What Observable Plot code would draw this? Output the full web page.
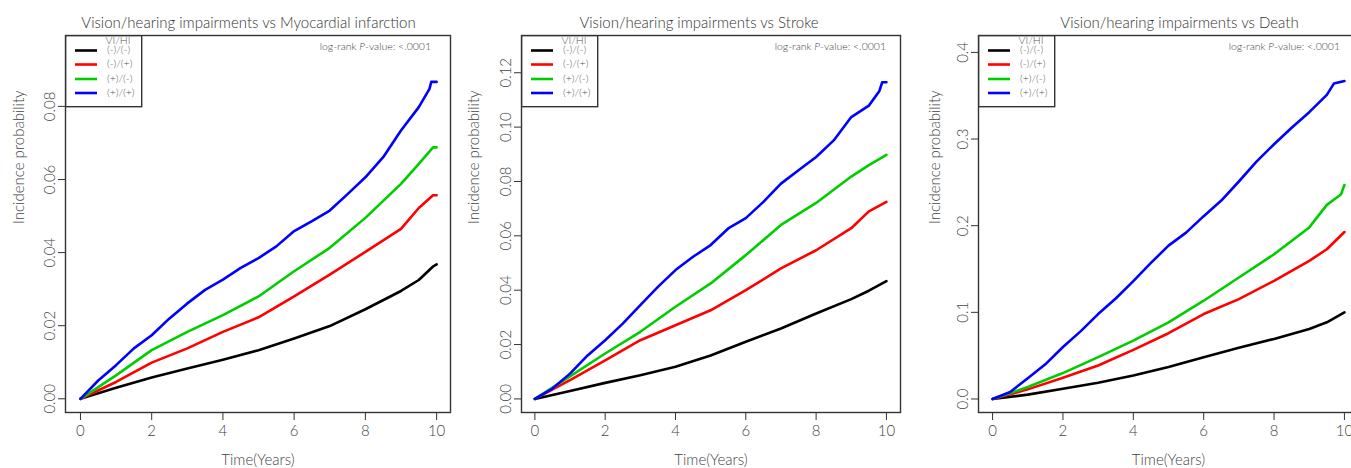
<!DOCTYPE html>
<html><head><meta charset="utf-8">
<script src="https://cdn.jsdelivr.net/npm/d3@7"></script>
<script src="https://cdn.jsdelivr.net/npm/@observablehq/plot@0.6"></script>
<style>
html,body{margin:0;padding:0;background:#fff;overflow:hidden}
#root{position:relative;width:1351px;height:468px;overflow:hidden;font-family:Lato,"Open Sans",sans-serif}
.panel{position:absolute;top:0}
.pval{position:absolute;font-size:10.5px;color:#444;white-space:nowrap;line-height:12px;font-weight:300}
svg.leg{position:absolute;top:35px;overflow:visible}
</style></head><body><div id="root"></div>
<script>
// ---------- data ----------
const groups = ["(-)/(-)", "(-)/(+)", "(+)/(-)", "(+)/(+)"];
const groupColors = ["#000000", "#FF0000", "#00CD00", "#0000FF"];
const legendTitle = "VI/HI";
const xTicks = [0, 2, 4, 6, 8, 10];

// Panel 1: Myocardial infarction
const miTitle = "Vision/hearing impairments vs Myocardial infarction";
const miTimes = [0, 1, 2, 3, 4, 5, 6, 7, 8, 9, 9.5, 9.9, 10];
const miNone = [0, 0.0030, 0.0058, 0.0083, 0.0107, 0.0133, 0.0165, 0.0199, 0.0245, 0.0295, 0.0325, 0.0362, 0.0368];
const miHearing = [0, 0.0046, 0.0099, 0.0138, 0.0183, 0.0223, 0.0280, 0.0340, 0.0402, 0.0465, 0.0522, 0.0557, 0.0557];
const miVision = [0, 0.0064, 0.0133, 0.0183, 0.0229, 0.0280, 0.0349, 0.0413, 0.0495, 0.0588, 0.0643, 0.0688, 0.0688];
const miBothTimes = [0, 0.5, 1, 1.5, 2, 2.5, 3, 3.5, 4, 4.5, 5, 5.5, 6, 6.5, 7, 7.5, 8, 8.5, 9, 9.5, 9.8, 9.85, 10];
const miBoth = [0, 0.0050, 0.0092, 0.0138, 0.0174, 0.0220, 0.0261, 0.0298, 0.0326, 0.0358, 0.0385, 0.0417, 0.0459, 0.0486, 0.0515, 0.0560, 0.0606, 0.0661, 0.0734, 0.0798, 0.0848, 0.0867, 0.0867];
const miYTicks = [0, 0.02, 0.04, 0.06, 0.08];

// Panel 2: Stroke
const stTitle = "Vision/hearing impairments vs Stroke";
const stTimes = [0, 1, 2, 3, 4, 5, 6, 7, 8, 9, 9.5, 10];
const stNone = [0, 0.0029, 0.0059, 0.0087, 0.0118, 0.0160, 0.0210, 0.0259, 0.0314, 0.0367, 0.0398, 0.0433];
const stHearing = [0, 0.0069, 0.0142, 0.0216, 0.0271, 0.0326, 0.0400, 0.0480, 0.0547, 0.0628, 0.0690, 0.0725];
const stVision = [0, 0.0083, 0.0167, 0.0247, 0.0339, 0.0425, 0.0529, 0.0640, 0.0721, 0.0818, 0.0860, 0.0898];
const stBothTimes = [0, 0.5, 1, 1.5, 2, 2.5, 3, 3.5, 4, 4.5, 5, 5.5, 6, 6.5, 7, 7.5, 8, 8.5, 9, 9.5, 9.8, 9.88, 10];
const stBoth = [0, 0.0038, 0.0093, 0.0160, 0.0216, 0.0277, 0.0345, 0.0412, 0.0474, 0.0523, 0.0566, 0.0627, 0.0665, 0.0725, 0.0792, 0.0841, 0.0890, 0.0951, 0.1037, 0.1079, 0.1133, 0.1165, 0.1165];
const stYTicks = [0, 0.02, 0.04, 0.06, 0.08, 0.10, 0.12];

// Panel 3: Death
const deTitle = "Vision/hearing impairments vs Death";
const deTimes = [0, 1, 2, 3, 4, 5, 6, 7, 8, 9, 9.5, 10];
const deNone = [0, 0.0050, 0.0119, 0.0188, 0.0272, 0.0368, 0.0483, 0.0590, 0.0693, 0.0808, 0.0885, 0.1000];
const deHearing = [0, 0.0111, 0.0245, 0.0387, 0.0567, 0.0759, 0.0980, 0.1153, 0.1364, 0.1594, 0.1728, 0.1927];
const deVisionTimes = [0, 1, 2, 3, 4, 5, 6, 7, 8, 9, 9.5, 9.9, 10];
const deVision = [0, 0.0138, 0.0299, 0.0483, 0.0674, 0.0885, 0.1134, 0.1402, 0.1670, 0.1980, 0.2240, 0.2360, 0.2470];
const deBothTimes = [0, 0.5, 1, 1.5, 2, 2.5, 3, 3.5, 4, 4.5, 5, 5.5, 6, 6.5, 7, 7.5, 8, 8.5, 9, 9.5, 9.7, 10];
const deBoth = [0, 0.008, 0.024, 0.040, 0.060, 0.078, 0.098, 0.116, 0.136, 0.157, 0.177, 0.192, 0.211, 0.229, 0.251, 0.274, 0.294, 0.313, 0.331, 0.351, 0.364, 0.367];
const deYTicks = [0, 0.1, 0.2, 0.3, 0.4];

const pvalText = ["log-rank ", "P", "-value: <.0001"];
const xLabel = "Time(Years)";
const yLabel = "Incidence probability";

// ---------- helpers ----------
function rows(group, times, values) {
  return times.map((t, i) => ({group, t, v: values[i]}));
}

const panels = [
  {
    title: miTitle, left: 0, width: 455, ml: 65, mr: 5,
    xDomain: [-0.42, 10.39], yDomain: [-0.00375, 0.0994], yTicks: miYTicks, fmt: d3.format(".2f"),
    titleDx: -9.5, ylabDx: -46, pvalRight: 19,
    data: [...rows(groups[0], miTimes, miNone), ...rows(groups[1], miTimes, miHearing),
           ...rows(groups[2], miTimes, miVision), ...rows(groups[3], miBothTimes, miBoth)]
  },
  {
    title: stTitle, left: 455, width: 450, ml: 66, mr: 5,
    xDomain: [-0.38, 10.4], yDomain: [-0.005, 0.1337], yTicks: stYTicks, fmt: d3.format(".2f"),
    titleDx: -12, ylabDx: -47.5, pvalRight: 14,
    data: [...rows(groups[0], stTimes, stNone), ...rows(groups[1], stTimes, stHearing),
           ...rows(groups[2], stTimes, stVision), ...rows(groups[3], stBothTimes, stBoth)]
  },
  {
    title: deTitle, left: 905, width: 460, ml: 73, mr: 7,
    xDomain: [-0.4, 10.4], yDomain: [-0.0156, 0.4195], yTicks: deYTicks, fmt: d3.format(".1f"),
    titleDx: 11, ylabDx: -43, pvalRight: 18,
    data: [...rows(groups[0], deTimes, deNone), ...rows(groups[1], deTimes, deHearing),
           ...rows(groups[2], deVisionTimes, deVision), ...rows(groups[3], deBothTimes, deBoth)]
  }
];

const root = document.getElementById("root");
const MT = 35, MB = 56, H = 468;

for (const p of panels) {
  const div = document.createElement("div");
  div.className = "panel";
  div.style.left = p.left + "px";
  div.style.width = p.width + "px";
  div.style.height = H + "px";
  root.appendChild(div);

  const chart = Plot.plot({
    width: p.width, height: H,
    marginLeft: p.ml, marginRight: p.mr, marginTop: MT, marginBottom: MB,
    style: {fontFamily: 'Lato, "Open Sans", sans-serif', fontSize: "15px", color: "#444", background: "transparent", overflow: "visible", fontWeight: 300},
    x: {domain: p.xDomain},
    y: {domain: p.yDomain},
    color: {domain: groups, range: groupColors},
    marks: [
      Plot.axisX({ticks: xTicks, tickSize: 8, tickPadding: 5, label: null, fontSize: 15, stroke: "#333"}),
      Plot.axisY({ticks: p.yTicks, tickFormat: p.fmt, tickSize: 7, tickPadding: 4, tickRotate: -90, label: null, fontSize: 15, stroke: "#333"}),
      Plot.line(p.data, {x: "t", y: "v", z: "group", stroke: "group", strokeWidth: 2.6, curve: "linear"}),
      Plot.frame({stroke: "#333", strokeWidth: 1.4}),
      Plot.text([p.title], {frameAnchor: "top", dy: -18, dx: p.titleDx, fontSize: 15, fill: "#333"}),
      Plot.text([xLabel], {frameAnchor: "bottom", dy: 52, fontSize: 15, fill: "#444"}),
      Plot.text([yLabel], {frameAnchor: "left", dx: p.ylabDx, rotate: -90, fontSize: 15, fill: "#444"})
    ]
  });
  div.appendChild(chart);

  // legend box (top-left inside frame)
  const lw = 76, lh = 71;
  const leg = d3.select(div).append("svg").attr("class", "leg")
    .attr("width", lw + 2).attr("height", lh + 2)
    .style("left", (p.ml - 0.5) + "px").style("top", (MT - 0.5) + "px")
    .style("font-family", 'Lato, "Open Sans", sans-serif');
  leg.append("rect").attr("x", 0.7).attr("y", 0.7).attr("width", lw).attr("height", lh)
    .attr("fill", "#fff").attr("stroke", "#333").attr("stroke-width", 1.4);
  leg.append("text").attr("x", 53).attr("y", 6).attr("text-anchor", "middle")
    .attr("dominant-baseline", "middle").attr("font-size", 10.5).attr("font-weight", 300).attr("fill", "#555").text(legendTitle);
  const rowY = [15.5, 29.5, 44, 58];
  groups.forEach((g, i) => {
    leg.append("line").attr("x1", 10).attr("x2", 32).attr("y1", rowY[i]).attr("y2", rowY[i])
      .attr("stroke", groupColors[i]).attr("stroke-width", 2.6);
    leg.append("text").attr("x", 42).attr("y", rowY[i]).attr("dominant-baseline", "middle")
      .attr("font-size", 10.5).attr("font-weight", 300).attr("fill", "#555").text(g);
  });

  // log-rank p-value
  const pv = document.createElement("div");
  pv.className = "pval";
  pv.style.right = (p.mr + p.pvalRight) + "px";
  pv.style.top = (MT + 5) + "px";
  pv.innerHTML = pvalText[0] + "<i>" + pvalText[1] + "</i>" + pvalText[2];
  div.appendChild(pv);
}
</script></body></html>
